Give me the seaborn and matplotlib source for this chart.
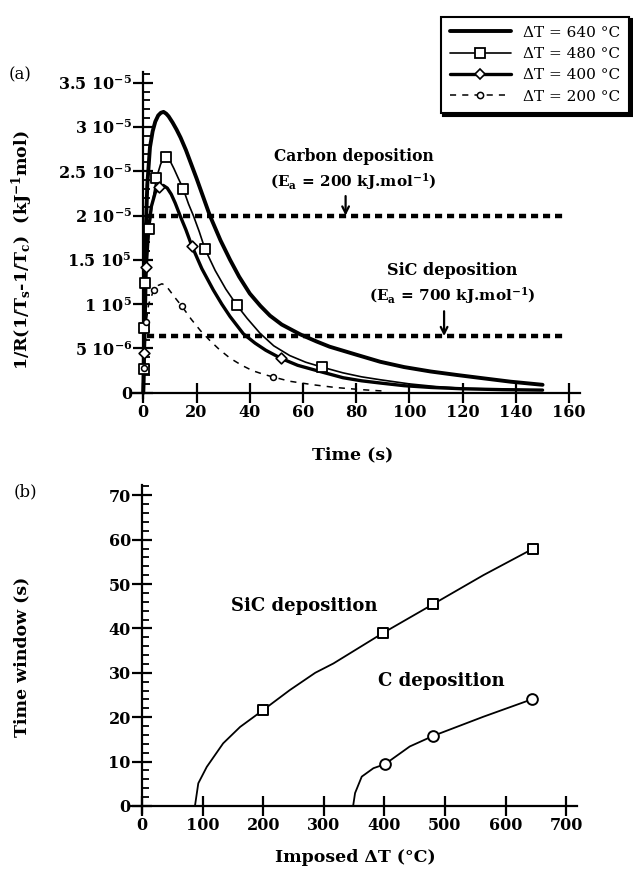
import numpy as np
import pandas as pd
import matplotlib
matplotlib.use("Agg")
import matplotlib.pyplot as plt
import seaborn as sns
from matplotlib.lines import Line2D
from matplotlib.ticker import MultipleLocator

sns.set_theme(style="white")
plt.rcParams['font.family'] = ['DejaVu Serif']
plt.rcParams['font.weight'] = 'bold'
plt.rcParams['mathtext.default'] = 'regular'
for k in ['text.color', 'axes.labelcolor', 'xtick.color', 'ytick.color', 'axes.edgecolor']:
    plt.rcParams[k] = 'black'

# ---------------- data : panel (a) (values in units of 1e-5) ----------------
t640 = [0, 0.3, 0.6, 1.0, 1.5, 2.5, 3.5, 4.5, 5.6, 6.6, 7.6, 8.6, 9.5, 11, 12.5, 14, 16, 18, 20,
        22.5, 25, 29, 32.6, 36, 40, 44, 47.6, 52, 58.9, 65, 70, 80, 89, 98, 108, 118, 127, 138, 150]
y640 = [0, 0.6, 1.3, 1.9, 2.35, 2.77, 2.95, 3.06, 3.13, 3.16, 3.17, 3.15, 3.12, 3.05, 2.97, 2.88,
        2.74, 2.58, 2.42, 2.21, 2.0, 1.72, 1.5, 1.31, 1.12, 0.98, 0.87, 0.77, 0.66, 0.58, 0.52,
        0.43, 0.35, 0.29, 0.24, 0.2, 0.166, 0.125, 0.09]

t480 = [0, 0.2, 0.3, 0.7, 1.5, 2.3, 3.2, 4.9, 6.5, 7.6, 8.7, 10, 11.5, 13, 15, 17, 18.8, 21, 23.2,
        27, 31, 35.1, 39, 43.9, 49, 55, 61, 67.1, 75, 82, 89, 100, 110, 120, 135, 150]
y480 = [0, 0.27, 0.73, 1.24, 1.6, 1.85, 2.1, 2.42, 2.58, 2.64, 2.66, 2.62, 2.53, 2.43, 2.3, 2.13,
        2.0, 1.82, 1.62, 1.38, 1.17, 0.99, 0.84, 0.67, 0.53, 0.42, 0.345, 0.29, 0.225, 0.18, 0.147,
        0.1, 0.07, 0.05, 0.04, 0.03]
m480_t = [0.2, 0.3, 0.7, 2.3, 4.9, 8.7, 15, 23.2, 35.1, 67.1]
m480_y = [0.27, 0.73, 1.24, 1.85, 2.42, 2.66, 2.3, 1.62, 0.99, 0.29]

t400 = [0, 0.4, 1.1, 2.0, 3.0, 4.5, 6.0, 7.5, 9, 10.5, 12, 13.8, 16, 18.2, 22, 26.3, 29.5, 32.6,
        37.6, 42, 46, 51.6, 58, 66.4, 75, 82, 89, 98, 108, 120, 135, 150]
y400 = [0, 0.45, 1.42, 1.85, 2.1, 2.26, 2.32, 2.34, 2.31, 2.24, 2.14, 2.0, 1.84, 1.66, 1.4, 1.16,
        1.0, 0.86, 0.665, 0.56, 0.48, 0.39, 0.31, 0.24, 0.17, 0.135, 0.11, 0.08, 0.06, 0.045,
        0.035, 0.03]
m400_t = [0.4, 1.1, 6.0, 18.2, 51.6]
m400_y = [0.45, 1.42, 2.32, 1.66, 0.39]

t200 = [0, 0.3, 1.1, 2.0, 3.9, 5.5, 7.0, 8.5, 10, 12, 14.4, 18, 21.5, 25, 28.5, 32.6, 37, 41, 45,
        48.9, 55, 63.9, 72, 82, 90]
y200 = [0, 0.28, 0.8, 1.0, 1.16, 1.21, 1.23, 1.21, 1.15, 1.07, 0.98, 0.83, 0.70, 0.59, 0.49,
        0.39, 0.31, 0.25, 0.21, 0.177, 0.13, 0.09, 0.06, 0.035, 0.02]
m200_t = [0.3, 1.1, 3.9, 14.4, 48.9]
m200_y = [0.28, 0.8, 1.16, 0.98, 0.177]

carbon_level = 2.0
sic_level = 0.64
level_span = [1.5, 158]
carbon_arrow_t = 76
sic_arrow_t = 113

legend_labels = ["ΔT = 640 °C", "ΔT = 480 °C", "ΔT = 400 °C", "ΔT = 200 °C"]
ya_ticks = [0, 0.5, 1.0, 1.5, 2.0, 2.5, 3.0, 3.5]
ya_ticklabels = ["0", "5 10$^{-6}$", "1 10$^{5}$", "1.5 10$^{5}$", "2 10$^{-5}$",
                 "2.5 10$^{-5}$", "3 10$^{-5}$", "3.5 10$^{-5}$"]
xa_ticks = [0, 20, 40, 60, 80, 100, 120, 140, 160]

# ---------------- data : panel (b) ----------------
sic_dT = [87.5, 93, 107, 134, 162, 200, 244, 286, 316, 397, 481, 563.5, 646]
sic_tw = [0, 5.1, 8.8, 14.1, 17.8, 21.6, 26.1, 30, 32.1, 38.9, 45.5, 52, 58.0]
sic_mk_dT = [200, 397, 481, 646]
sic_mk_tw = [21.6, 38.9, 45.5, 58.0]

c_dT = [348.5, 351.7, 362.7, 382, 401, 442, 481, 563.5, 643]
c_tw = [0, 2.9, 6.6, 8.5, 9.4, 13.4, 15.8, 20.1, 24.0]
c_mk_dT = [401, 481, 643]
c_mk_tw = [9.4, 15.8, 24.0]

xb_ticks = [0, 100, 200, 300, 400, 500, 600, 700]
yb_ticks = [0, 10, 20, 30, 40, 50, 60, 70]

S = 1e-5

fig = plt.figure(figsize=(6.33, 8.73), dpi=100)
ax1 = fig.add_axes([0.210, 0.544, 0.706, 0.3735])
ax2 = fig.add_axes([0.207, 0.0687, 0.7046, 0.3757])


def style_axes(ax):
    for s in ['top', 'right']:
        ax.spines[s].set_visible(False)
    ax.spines['left'].set_position(('data', 0))
    ax.spines['bottom'].set_position(('data', 0))
    for s in ['left', 'bottom']:
        ax.spines[s].set_linewidth(1.6)
        ax.spines[s].set_color('black')
    ax.tick_params(which='major', bottom=True, left=True, direction='inout', length=14,
                   width=1.6, colors='black', labelsize=11.5, pad=1)
    ax.tick_params(axis='y', which='minor', left=True, direction='in', length=5, width=1.3,
                   colors='black')
    ax.tick_params(axis='x', which='minor', bottom=False)
    ax.set_facecolor('white')


# ---- panel (a) ----
sns.lineplot(x=np.array(t640), y=np.array(y640) * S, sort=False, estimator=None, color='black',
             linewidth=2.8, ax=ax1)
sns.lineplot(x=np.array(t480), y=np.array(y480) * S, sort=False, estimator=None, color='black',
             linewidth=1.2, ax=ax1)
sns.lineplot(x=np.array(t400), y=np.array(y400) * S, sort=False, estimator=None, color='black',
             linewidth=2.4, ax=ax1)
sns.lineplot(x=np.array(t200), y=np.array(y200) * S, sort=False, estimator=None, color='black',
             linewidth=1.1, linestyle=(0, (4, 4)), ax=ax1)
sns.scatterplot(x=m480_t, y=np.array(m480_y) * S, marker='s', s=60, color='white',
                edgecolor='black', linewidth=1.3, zorder=4, ax=ax1)
sns.scatterplot(x=m400_t, y=np.array(m400_y) * S, marker='D', s=30, color='white',
                edgecolor='black', linewidth=1.2, zorder=4, ax=ax1)
sns.scatterplot(x=m200_t, y=np.array(m200_y) * S, marker='o', s=18, color='white',
                edgecolor='black', linewidth=1.1, zorder=4, ax=ax1)

for lvl in [carbon_level, sic_level]:
    sns.lineplot(x=level_span, y=[lvl * S, lvl * S], color='black', linewidth=3.2,
                 linestyle=(0, (1.6, 1.1)), ax=ax1)

ax1.annotate("", xy=(carbon_arrow_t, carbon_level * S), xytext=(carbon_arrow_t, 2.22 * S),
             arrowprops=dict(arrowstyle='->', color='black', lw=1.6, shrinkA=0, shrinkB=0,
                             mutation_scale=12))
ax1.annotate("", xy=(sic_arrow_t, sic_level * S), xytext=(sic_arrow_t, 0.92 * S),
             arrowprops=dict(arrowstyle='->', color='black', lw=1.6, shrinkA=0, shrinkB=0,
                             mutation_scale=12))
ax1.text(79, 2.67 * S, "Carbon deposition", ha='center', va='center', fontsize=11.2)
ax1.text(79, 2.38 * S, "(E$_a$ = 200 kJ.mol$^{-1}$)", ha='center', va='center', fontsize=11)
ax1.text(116, 1.38 * S, "SiC deposition", ha='center', va='center', fontsize=11.6)
ax1.text(116, 1.10 * S, "(E$_a$ = 700 kJ.mol$^{-1}$)", ha='center', va='center', fontsize=11)

ax1.set_xlim(-3.9, 164)
ax1.set_ylim(-0.06 * S, 3.62 * S)
ax1.set_xticks(xa_ticks)
ax1.set_xticklabels([str(v) for v in xa_ticks])
ax1.set_yticks([v * S for v in ya_ticks])
ax1.set_yticklabels(ya_ticklabels)
ax1.yaxis.set_minor_locator(MultipleLocator(0.1 * S))
style_axes(ax1)
ax1.set_xlabel("")
ax1.set_ylabel("")
fig.text(353 / 633, 1 - 455 / 873, "Time (s)", ha='center', va='center', fontsize=12.5)
fig.text(22 / 633, 1 - 250 / 873, "1/R(1/T$_s$-1/T$_c$)  (kJ$^{-1}$mol)", rotation=90,
         ha='center', va='center', fontsize=12.5)
fig.text(20 / 633, 1 - 75 / 873, "(a)", ha='center', va='center', fontsize=12,
         fontweight='normal')

handles = [
    Line2D([], [], color='black', lw=2.8),
    Line2D([], [], color='black', lw=1.2, marker='s', markersize=7, markerfacecolor='white',
           markeredgecolor='black', markeredgewidth=1.3),
    Line2D([], [], color='black', lw=2.4, marker='D', markersize=5, markerfacecolor='white',
           markeredgecolor='black', markeredgewidth=1.2),
    Line2D([], [], color='black', lw=1.1, linestyle=(0, (4, 4)), marker='o', markersize=4.5,
           markerfacecolor='white', markeredgecolor='black', markeredgewidth=1.1),
]
leg = fig.legend(handles, legend_labels, loc='upper left',
                 bbox_to_anchor=(433 / 633, 1 - 9 / 873), frameon=True, fancybox=False,
                 shadow={'color': 'black', 'alpha': 1}, edgecolor='black', framealpha=1,
                 handlelength=4.0, handletextpad=0.8, labelspacing=0.48, borderpad=0.6,
                 prop={'family': 'DejaVu Serif', 'weight': 'normal', 'size': 11})
leg.get_frame().set_linewidth(1.5)

# ---- panel (b) ----
sns.lineplot(x=sic_dT, y=sic_tw, sort=False, estimator=None, color='black', linewidth=1.3, ax=ax2)
sns.lineplot(x=c_dT, y=c_tw, sort=False, estimator=None, color='black', linewidth=1.3, ax=ax2)
sns.scatterplot(x=sic_mk_dT, y=sic_mk_tw, marker='s', s=60, color='white', edgecolor='black',
                linewidth=1.4, zorder=4, ax=ax2)
sns.scatterplot(x=c_mk_dT, y=c_mk_tw, marker='o', s=60, color='white', edgecolor='black',
                linewidth=1.4, zorder=4, ax=ax2)
ax2.text(268, 45, "SiC deposition", ha='center', va='center', fontsize=13)
ax2.text(494, 28.2, "C deposition", ha='center', va='center', fontsize=13)
ax2.set_xlim(-18, 718)
ax2.set_ylim(-1.6, 72.3)
ax2.set_xticks(xb_ticks)
ax2.set_yticks(yb_ticks)
ax2.yaxis.set_minor_locator(MultipleLocator(2))
style_axes(ax2)
ax2.set_xlabel("")
ax2.set_ylabel("")
fig.text(355 / 633, 1 - 858 / 873, "Imposed ΔT (°C)", ha='center', va='center', fontsize=12.5)
fig.text(22 / 633, 1 - 657 / 873, "Time window (s)", rotation=90, ha='center', va='center',
         fontsize=12.5)
fig.text(25 / 633, 1 - 492 / 873, "(b)", ha='center', va='center', fontsize=12,
         fontweight='normal')

fig.savefig("out.png", dpi=100, facecolor='white')
